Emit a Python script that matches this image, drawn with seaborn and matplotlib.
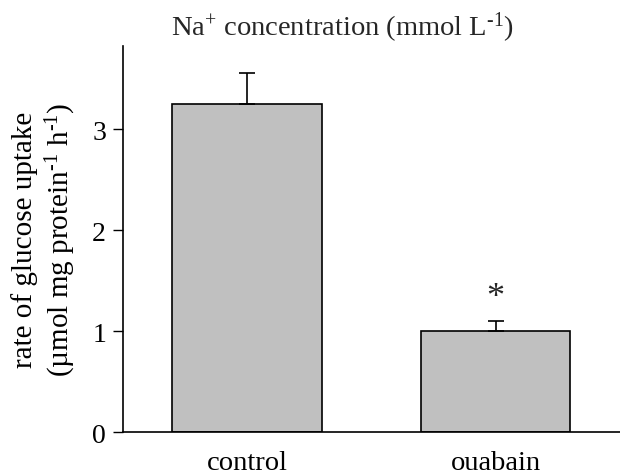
import matplotlib
matplotlib.use("Agg")
import matplotlib.pyplot as plt
import seaborn as sns
import pandas as pd
import numpy as np

categories = ["control", "ouabain"]
values = [3.25, 1.0]
errors = [0.30, 0.10]
yticks = [0, 1, 2, 3]
title = r"Na$^{+}$ concentration (mmol L$^{\text{-1}}$)"
ylabel = "rate of glucose uptake\n" + r"(µmol mg protein$^{\text{-1}}$ h$^{\text{-1}}$)"

sns.set_theme(style="ticks")
plt.rcParams["font.family"] = ["Liberation Serif", "DejaVu Serif"]
plt.rcParams["mathtext.fontset"] = "custom"
plt.rcParams["mathtext.rm"] = "Liberation Serif"
plt.rcParams["mathtext.it"] = "Liberation Serif"
plt.rcParams["mathtext.default"] = "regular"

df = pd.DataFrame({"group": categories, "rate": values})

fig = plt.figure(figsize=(6.2, 4.77), dpi=100)
ax = fig.add_axes([0.198, 0.092, 0.802, 0.809])

sns.barplot(data=df, x="group", y="rate", color="#c0c0c0", saturation=1,
            edgecolor="black", linewidth=1.2, width=0.6, errorbar=None, ax=ax)
ax.errorbar(range(len(categories)), values, yerr=[np.zeros(len(errors)), errors],
            fmt="none", ecolor="black", elinewidth=1.2, capsize=6, capthick=1.2, zorder=1)

ax.text(1, 1.33, "*", ha="center", va="center", fontsize=26)

ax.set_xlim(-0.5, 1.5)
ax.set_ylim(0, 3.82)
ax.set_yticks(yticks)
ax.set_yticklabels([str(t) for t in yticks])
ax.tick_params(axis="y", direction="out", length=7, width=1, labelsize=20, color="black", labelcolor="black", pad=5)
ax.tick_params(axis="x", length=0, labelsize=20.5, pad=13, labelcolor="black")
for s in ["top", "right"]:
    ax.spines[s].set_visible(False)
for s in ["left", "bottom"]:
    ax.spines[s].set_color("black")
    ax.spines[s].set_linewidth(1.2)
ax.set_xlabel("")
ax.set_ylabel(ylabel, fontsize=21, color="black", labelpad=10, linespacing=1.25)
fig.text(0.552, 0.941, title, ha="center", va="center", fontsize=20.5)

fig.savefig("out.png", dpi=100)
